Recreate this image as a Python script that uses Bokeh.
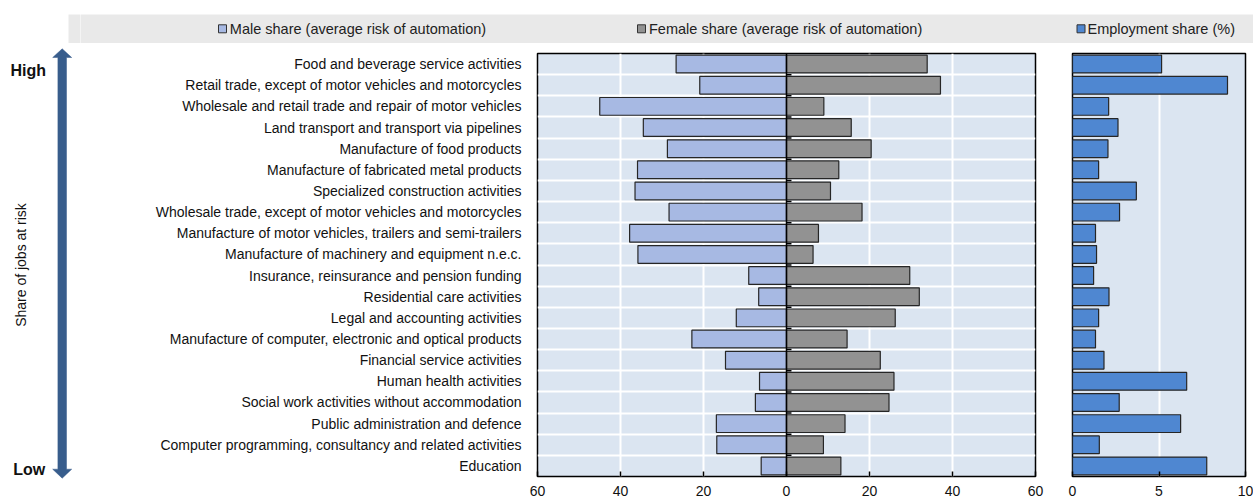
import numpy as np
from bokeh.plotting import figure
from bokeh.layouts import row, column
from bokeh.models import Range1d, FixedTicker, Span
from bokeh.embed import file_html
from bokeh.resources import INLINE
from bokeh.core.properties import value

# ---------------- data ----------------
categories = [
    "Food and beverage service activities",
    "Retail trade, except of motor vehicles and motorcycles",
    "Wholesale and retail trade and repair of motor vehicles",
    "Land transport and transport via pipelines",
    "Manufacture of food products",
    "Manufacture of fabricated metal products",
    "Specialized construction activities",
    "Wholesale trade, except of motor vehicles and motorcycles",
    "Manufacture of motor vehicles, trailers and semi-trailers",
    "Manufacture of machinery and equipment n.e.c.",
    "Insurance, reinsurance and pension funding",
    "Residential care activities",
    "Legal and accounting activities",
    "Manufacture of computer, electronic and optical products",
    "Financial service activities",
    "Human health activities",
    "Social work activities without accommodation",
    "Public administration and defence",
    "Computer programming, consultancy and related activities",
    "Education",
]
male_share = [26.6, 20.9, 45.0, 34.5, 28.7, 35.9, 36.5, 28.3, 37.8, 35.8,
              9.1, 6.7, 12.1, 22.8, 14.7, 6.5, 7.5, 16.9, 16.8, 6.1]
female_share = [33.9, 37.1, 9.0, 15.6, 20.4, 12.6, 10.6, 18.2, 7.7, 6.4,
                29.7, 32.0, 26.2, 14.6, 22.6, 25.9, 24.7, 14.1, 8.9, 13.1]
employment_share = [5.15, 8.96, 2.09, 2.63, 2.05, 1.51, 3.69, 2.72, 1.33, 1.39,
                    1.22, 2.11, 1.51, 1.33, 1.82, 6.60, 2.70, 6.25, 1.55, 7.76]
risk_ticks = [-60, -40, -20, 0, 20, 40, 60]
risk_tick_labels = ["60", "40", "20", "0", "20", "40", "60"]
emp_ticks = [0, 5, 10]
legend_labels = ["Male share (average risk of automation)",
                 "Female share (average risk of automation)",
                 "Employment share (%)"]
axis_title = "Share of jobs at risk"
high_label, low_label = "High", "Low"

# ---------------- style ----------------
FONT = "Liberation Sans"
MALE_C = "#a7b9e3"
FEMALE_C = "#929292"
EMP_C = "#4f87d1"
BG_C = "#dbe5f1"
BAND_C = "#e9e9e9"
ARROW_C = "#385d8c"
BAR_LINE = "#262626"

n = len(categories)
ys = [n - 1 - i for i in range(n)]
bounds = [k + 0.5 for k in range(n - 1)]

TOTAL_H = 503
HEADER_H = 46
ROW_H = TOTAL_H - HEADER_H
LEFT_W = 80
MAIN_W = 970
EMP_W = 203
TOTAL_W = LEFT_W + MAIN_W + EMP_W

BAND_TOP, BAND_BOT = 14, 42.5   # page y of the legend band
BAND_LEFT = 68

def py(page_y, height):
    """page y (from top) -> figure data y (from bottom)"""
    return height - page_y

# ---------------- left column (arrow + labels), full height ----------------
a = figure(width=LEFT_W, height=TOTAL_H, x_range=Range1d(0, LEFT_W),
           y_range=Range1d(0, TOTAL_H), output_backend="svg",
           toolbar_location=None, min_border=0,
           x_axis_location=None, y_axis_location=None)
a.outline_line_color = None
a.grid.visible = False
a.quad(left=[BAND_LEFT], right=[LEFT_W + 6], bottom=[py(BAND_BOT, TOTAL_H)],
       top=[py(BAND_TOP, TOTAL_H)], fill_color=BAND_C, line_color=None)

cx = 61.7
hw_head, hw_shaft = 9.5, 4.3
top_tip, top_base = py(48.3, TOTAL_H), py(57, TOTAL_H)
bot_tip, bot_base = py(477.7, TOTAL_H), py(468.7, TOTAL_H)
arrow_x = [cx, cx + hw_head, cx + hw_shaft, cx + hw_shaft, cx + hw_head, cx,
           cx - hw_head, cx - hw_shaft, cx - hw_shaft, cx - hw_head]
arrow_y = [top_tip, top_base, top_base, bot_base, bot_base, bot_tip,
           bot_base, bot_base, top_base, top_base]
a.patch(arrow_x, arrow_y, fill_color=ARROW_C, line_color=ARROW_C, line_width=0.5)
a.text(x=[10, 12.7], y=[py(70, TOTAL_H), py(468.5, TOTAL_H)], text=[high_label, low_label],
       text_font=value(FONT), text_font_style="bold", text_font_size="16px",
       text_baseline="middle", text_align="left", text_color="#111111")
a.text(x=[20], y=[py(264.5, TOTAL_H)], text=[axis_title], angle=np.pi / 2,
       text_font=value(FONT), text_font_size="14px", text_baseline="middle",
       text_align="center", text_color="#111111")

# ---------------- header (legend band) ----------------
h = figure(width=TOTAL_W - LEFT_W, height=HEADER_H, x_range=Range1d(LEFT_W, TOTAL_W),
           y_range=Range1d(0, HEADER_H), output_backend="svg",
           toolbar_location=None, min_border=0,
           x_axis_location=None, y_axis_location=None)
h.outline_line_color = None
h.grid.visible = False
h.quad(left=[LEFT_W - 6], right=[TOTAL_W + 6], bottom=[py(BAND_BOT, HEADER_H)],
       top=[py(BAND_TOP, HEADER_H)], fill_color=BAND_C, line_color=None)
sq_x = [222, 641, 1080.5]
txt_x = [229.3, 648.5, 1087]
legend_y = py(28.3, HEADER_H)
h.scatter(x=sq_x, y=[legend_y] * 3, marker="square", size=8,
          fill_color=[MALE_C, FEMALE_C, EMP_C], line_color="#333333", line_width=1)
h.text(x=txt_x, y=[legend_y] * 3, text=legend_labels, text_font=value(FONT),
       text_font_size="14.5px", text_baseline="middle", text_align="left",
       text_color="#222222")

# ---------------- main diverging chart ----------------
p = figure(width=MAIN_W, height=ROW_H, x_range=Range1d(-60, 60),
           y_range=Range1d(-0.5, n - 0.5), output_backend="svg",
           toolbar_location=None, min_border_left=457, min_border_right=15,
           min_border_top=7, min_border_bottom=27)
p.background_fill_color = BG_C
p.outline_line_color = "black"
p.outline_line_width = 1.5

p.xgrid.ticker = FixedTicker(ticks=[-40, -20, 20, 40])
p.xgrid.grid_line_color = "white"
p.xgrid.grid_line_width = 2
p.ygrid.ticker = FixedTicker(ticks=bounds)
p.ygrid.grid_line_color = "white"
p.ygrid.grid_line_width = 2

p.hbar(y=ys, left=[-m for m in male_share], right=0, height=0.84,
       fill_color=MALE_C, line_color=BAR_LINE, line_width=1.2)
p.hbar(y=ys, left=0, right=female_share, height=0.84,
       fill_color=FEMALE_C, line_color=BAR_LINE, line_width=1.2)
p.add_layout(Span(location=0, dimension="height", line_color="black", line_width=1.5))
p.segment(x0=[0] * len(bounds), x1=[1.2] * len(bounds), y0=bounds, y1=bounds,
          line_color="black", line_width=1.5)

p.yaxis.ticker = FixedTicker(ticks=ys)
p.yaxis.major_label_overrides = {y: c for y, c in zip(ys, categories)}
p.yaxis.axis_line_color = None
p.yaxis.major_tick_line_color = None
p.yaxis.minor_tick_line_color = None
p.yaxis.major_label_standoff = 10
p.yaxis.major_label_text_font = FONT
p.yaxis.major_label_text_font_size = "14px"
p.yaxis.major_label_text_color = "#111111"

p.xaxis.ticker = FixedTicker(ticks=risk_ticks)
p.xaxis.major_label_overrides = {t: l for t, l in zip(risk_ticks, risk_tick_labels)}
p.xaxis.axis_line_color = None
p.xaxis.major_tick_in = 5
p.xaxis.major_tick_out = 0
p.xaxis.major_tick_line_color = "black"
p.xaxis.major_tick_line_width = 1.5
p.xaxis.minor_tick_line_color = None
p.xaxis.major_label_standoff = 9
p.xaxis.major_label_text_font = FONT
p.xaxis.major_label_text_font_size = "14px"
p.xaxis.major_label_text_color = "#111111"

# ---------------- employment share panel ----------------
q = figure(width=EMP_W, height=ROW_H, x_range=Range1d(0, 10),
           y_range=p.y_range, output_backend="svg", toolbar_location=None,
           min_border_left=22, min_border_right=8, min_border_top=7,
           min_border_bottom=27, y_axis_location=None)
q.background_fill_color = BG_C
q.outline_line_color = "black"
q.outline_line_width = 1.5
q.ygrid.grid_line_color = None
q.xgrid.ticker = FixedTicker(ticks=[5])
q.xgrid.grid_line_color = "white"
q.xgrid.grid_line_width = 2
q.hbar(y=ys, left=0, right=employment_share, height=0.84,
       fill_color=EMP_C, line_color=BAR_LINE, line_width=1.2)
q.xaxis.ticker = FixedTicker(ticks=emp_ticks)
q.xaxis.axis_line_color = None
q.xaxis.major_tick_in = 5
q.xaxis.major_tick_out = 0
q.xaxis.major_tick_line_color = "black"
q.xaxis.major_tick_line_width = 1.5
q.xaxis.minor_tick_line_color = None
q.xaxis.major_label_standoff = 9
q.xaxis.major_label_text_font = FONT
q.xaxis.major_label_text_font_size = "14px"
q.xaxis.major_label_text_color = "#111111"

layout = row(a, column(h, row(p, q)))
open("out.html", "w").write(file_html(layout, INLINE))
